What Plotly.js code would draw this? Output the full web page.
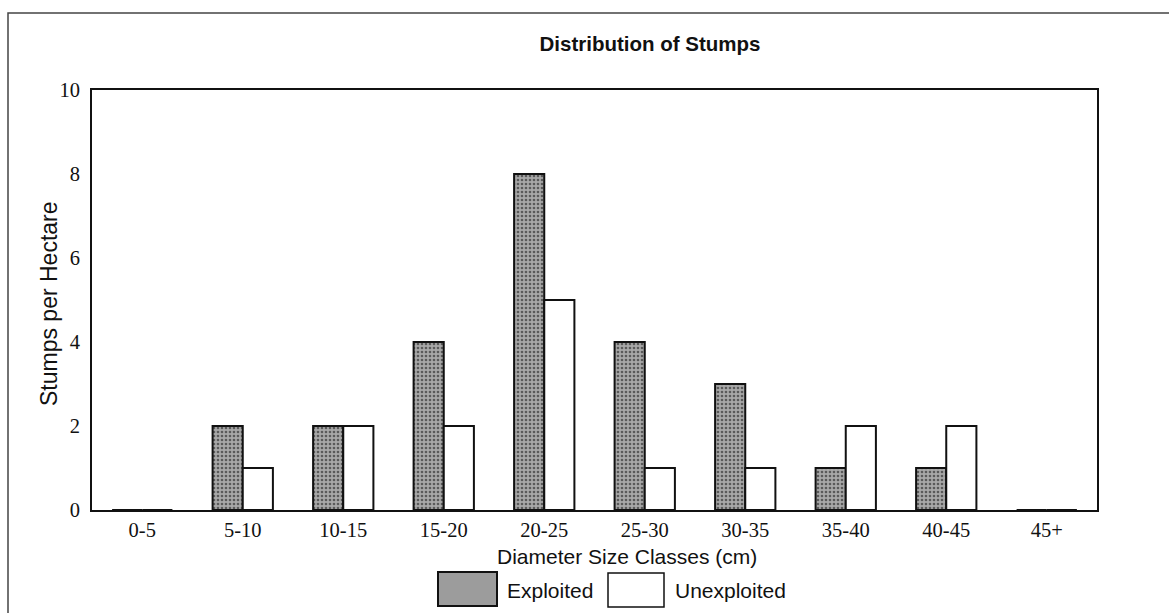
<!DOCTYPE html>
<html>
<head>
<meta charset="utf-8">
<script src="https://cdn.plot.ly/plotly-3.0.1.min.js"></script>
<style>html,body{margin:0;padding:0;background:#fff;}#chart{width:1169px;height:613px;}</style>
</head>
<body>
<div id="chart"></div>
<script>
const categories = ['0-5','5-10','10-15','15-20','20-25','25-30','30-35','35-40','40-45','45+'];
const exploited = [0,2,2,4,8,4,3,1,1,0];
const unexploited = [0,1,2,2,5,1,1,2,2,0];
const yTicks = [0,2,4,6,8,10];

const W = 1169, H = 613;
const L = 92, R = 1097, T = 90, B = 510;
const px = x => (x - L) / (R - L);
const py = y => (B - y) / (B - T);
const SANS = 'Liberation Sans, Arial, sans-serif';
const SERIF = 'Liberation Serif, Times New Roman, serif';

const traces = [
  {
    type: 'bar', name: 'Exploited', x: categories, y: exploited,
    marker: {
      color: '#9c9c9c',
      line: {color: '#111', width: 2},
      pattern: {shape: '.', fgcolor: '#5a5a5a', bgcolor: '#a8a8a8', size: 4, solidity: 0.35}
    },
    showlegend: false
  },
  {
    type: 'bar', name: 'Unexploited', x: categories, y: unexploited,
    marker: {color: '#ffffff', line: {color: '#111', width: 2}},
    showlegend: false
  }
];

const layout = {
  width: W, height: H,
  margin: {l: L, r: W - R, t: T, b: H - B},
  paper_bgcolor: '#fff', plot_bgcolor: '#fff',
  barmode: 'group', bargap: 0.4, bargroupgap: 0,
  title: {
    text: '<b>Distribution of Stumps</b>',
    font: {family: SANS, size: 20.5, color: '#111'},
    x: 650 / W, xref: 'container', xanchor: 'center',
    y: 1 - 44 / H, yref: 'container', yanchor: 'middle'
  },
  xaxis: {
    type: 'category', range: [-0.5, 9.5],
    showline: true, linecolor: '#111', linewidth: 2, mirror: true,
    ticks: '', showgrid: false, zeroline: false,
    tickfont: {family: SERIF, size: 20.5, color: '#111'}
  },
  yaxis: {
    range: [0, 10], tickvals: yTicks,
    showline: true, linecolor: '#111', linewidth: 2, mirror: true,
    ticks: '', showgrid: false, zeroline: false, ticklabelstandoff: 6,
    tickfont: {family: SERIF, size: 20.5, color: '#111'}
  },
  shapes: [
    {type: 'rect', xref: 'paper', yref: 'paper', x0: px(8), x1: px(1180), y0: py(13), y1: py(625),
     line: {color: '#444', width: 1.5}, fillcolor: 'rgba(0,0,0,0)', layer: 'below'},
    {type: 'rect', xref: 'paper', yref: 'paper', x0: px(438), x1: px(497), y0: py(572), y1: py(606),
     line: {color: '#111', width: 2}, fillcolor: '#9c9c9c'},
    {type: 'rect', xref: 'paper', yref: 'paper', x0: px(608), x1: px(664), y0: py(573), y1: py(607),
     line: {color: '#111', width: 1.5}, fillcolor: '#ffffff'}
  ],
  annotations: [
    {text: 'Diameter Size Classes (cm)', xref: 'paper', yref: 'paper', x: px(627), y: py(556),
     xanchor: 'center', yanchor: 'middle', showarrow: false,
     font: {family: SANS, size: 21, color: '#111'}},
    {text: 'Stumps per Hectare', xref: 'paper', yref: 'paper', x: px(49), y: py(304),
     xanchor: 'center', yanchor: 'middle', textangle: -90, showarrow: false,
     font: {family: SANS, size: 23, color: '#111'}},
    {text: 'Exploited', xref: 'paper', yref: 'paper', x: px(505), y: py(590), xanchor: 'left', yanchor: 'middle',
     showarrow: false, font: {family: SANS, size: 21, color: '#111'}},
    {text: 'Unexploited', xref: 'paper', yref: 'paper', x: px(673), y: py(590), xanchor: 'left', yanchor: 'middle',
     showarrow: false, font: {family: SANS, size: 21, color: '#111'}}
  ]
};

Plotly.newPlot('chart', traces, layout, {displayModeBar: false, staticPlot: true});
</script>
</body>
</html>
